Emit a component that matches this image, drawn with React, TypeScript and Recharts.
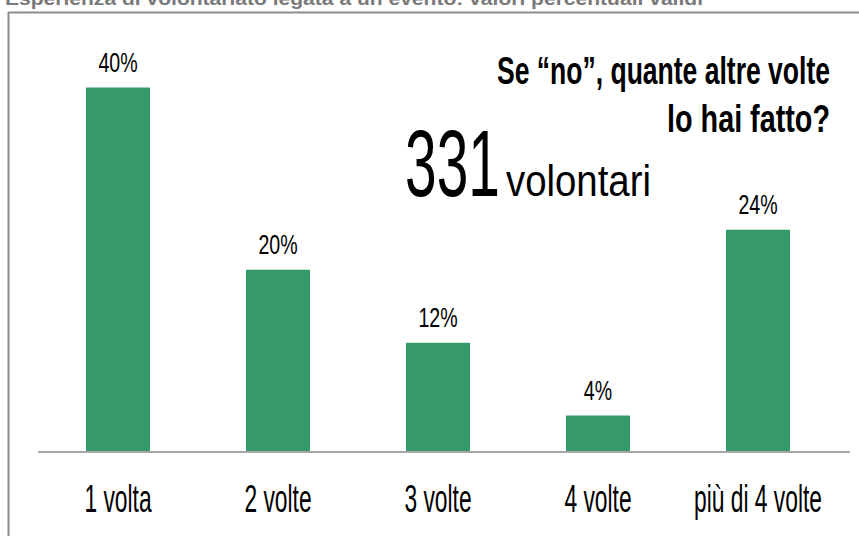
import { Bar, BarChart, LabelList, XAxis, YAxis } from "recharts"

const categories = ["1 volta", "2 volte", "3 volte", "4 volte", "più di 4 volte"]
const percent = [40, 20, 12, 4, 24.4]

const data = categories.map((name, i) => ({ name, value: percent[i] }))

const FONT = "'Liberation Sans', Arial, sans-serif"

// the original uses a very narrow typeface, so squeeze the glyphs horizontally
function CategoryTick(props: any) {
    const { x, y, payload } = props
    return (
        <g transform={`translate(${x},${y})`}>
            <text transform="scale(0.6,1)" textAnchor="middle" y={54} fontSize={38} fill="#000" fontFamily={FONT}>
                {payload.value}
            </text>
        </g>
    )
}

function PercentLabel(props: any) {
    const { x, y, width, value } = props
    return (
        <g transform={`translate(${Number(x) + Number(width) / 2},${Number(y) - 16})`}>
            <text transform="scale(0.7,1)" textAnchor="middle" fontSize={28} fill="#000" fontFamily={FONT}>
                {`${Math.round(value)}%`}
            </text>
        </g>
    )
}

export default function App() {
    return (
        <div style={{ position: "absolute", left: 0, top: 0, width: 859, height: 536, background: "#fff", fontFamily: FONT }}>
            <BarChart
                width={859}
                height={536}
                data={data}
                margin={{ top: 42, right: 9, bottom: 54, left: 38 }}
            >
                <XAxis
                    dataKey="name"
                    axisLine={{ stroke: "#a6a6a6", strokeWidth: 2 }}
                    tickLine={false}
                    tickMargin={0}
                    padding={{ left: 0, right: 12 }}
                    tick={<CategoryTick />}
                />
                <YAxis hide domain={[0, 45]} />
                <Bar dataKey="value" fill="#359a68" barSize={64} isAnimationActive={false}>
                    <LabelList dataKey="value" content={<PercentLabel />} />
                </Bar>
            </BarChart>
            <svg width={859} height={536} style={{ position: "absolute", left: 0, top: 0, pointerEvents: "none" }}>
                <line x1={8} y1={12.5} x2={859} y2={12.5} stroke="#8c8c8c" strokeWidth={2} />
                <line x1={8.5} y1={12} x2={8.5} y2={536} stroke="#8c8c8c" strokeWidth={2} />
                <text x={5} y={5} fontSize={18} fontWeight="bold" fill="#7a7a7a" fontFamily={FONT} textLength={698} lengthAdjust="spacingAndGlyphs">
                    Esperienza di volontariato legata a un evento: valori percentuali validi
                </text>
                <text x={497} y={84} fontSize={38} fontWeight="bold" fill="#000" fontFamily={FONT} textLength={333} lengthAdjust="spacingAndGlyphs">
                    Se “no”, quante altre volte
                </text>
                <text x={667} y={132} fontSize={38} fontWeight="bold" fill="#000" fontFamily={FONT} textLength={163} lengthAdjust="spacingAndGlyphs">
                    lo hai fatto?
                </text>
                <text x={405} y={196} fontSize={94} fill="#000" fontFamily={FONT} textLength={95} lengthAdjust="spacingAndGlyphs">
                    331
                </text>
                <text x={506} y={196} fontSize={44} fill="#000" fontFamily={FONT} textLength={145} lengthAdjust="spacingAndGlyphs">
                    volontari
                </text>
            </svg>
        </div>
    )
}
